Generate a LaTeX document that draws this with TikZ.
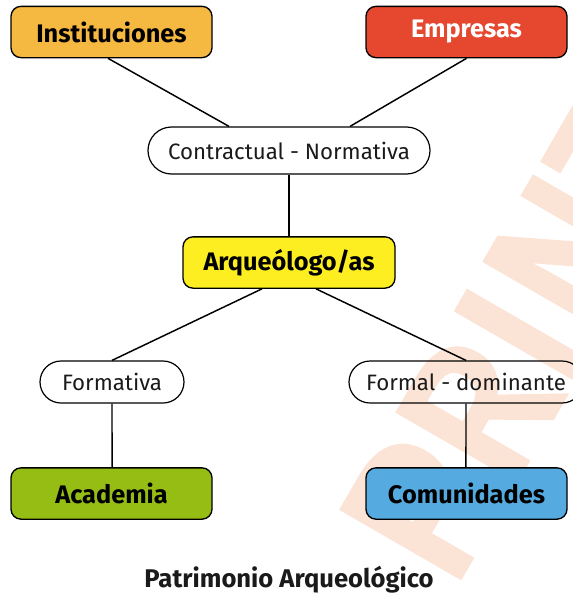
\documentclass[tikz,border=0pt]{standalone}
\usepackage{fontspec}
\setmainfont{Fira Sans}
\newfontfamily\wmfont[FakeBold=4]{Fira Sans}
\usetikzlibrary{shapes.misc}
\definecolor{cinst}{HTML}{F5B841}
\definecolor{cemp}{HTML}{E5482F}
\definecolor{carq}{HTML}{FDEE21}
\definecolor{cacad}{HTML}{95BD14}
\definecolor{ccom}{HTML}{55ABDF}
\definecolor{cwm}{HTML}{FBE3D6}
\definecolor{ctxt}{HTML}{1A1A1A}
\begin{document}
\begin{tikzpicture}[x=0.75pt,y=-0.75pt,
  box/.style={draw=black, line width=1pt, rounded corners=7.5pt, minimum width=150.75pt, minimum height=38.5pt, font=\bfseries\fontsize{19}{22}\selectfont, text=black, inner sep=0pt},
  pill/.style={draw=black, line width=0.9pt, rounded rectangle, font=\fontsize{16.7}{19}\selectfont, text=ctxt, inner sep=0pt},
  link/.style={draw=black, line width=1.1pt}]
\useasboundingbox (0,0) rectangle (573,596);
\begin{scope}
\clip (0,0) rectangle (573,596);
\node[rotate=60, anchor=base west, text=cwm, font=\wmfont\fontsize{145}{150}\selectfont, inner sep=0pt] (wm) at (450,592) {PRINT};
\end{scope}
% pills
\begin{scope}
\clip (0,0) rectangle (573,596);
\node[pill, minimum width=211.5pt, minimum height=35.25pt] (cn) at (289,150.5) {Contractual - Normativa};
\node[pill, minimum width=108pt, minimum height=31.5pt] (form) at (112,382) {Formativa};
\node[pill, minimum width=175.5pt, minimum height=31.5pt] (fd) at (466,382) {Formal - dominante};
\end{scope}
% boxes
\node[box, fill=cinst] (inst) at (111.5,32) {Instituciones};
\node[box, fill=cemp, text=white] (emp) at (466.5,32) {Empresas};
\node[box, fill=carq, minimum width=159pt] (arq) at (289,262.5) {Arqueólogo/as};
\node[box, fill=cacad] (acad) at (111.5,493.5) {Academia};
\node[box, fill=ccom] (com) at (466.5,493.5) {Comunidades};
\node[font=\bfseries\fontsize{19.2}{22}\selectfont, text=ctxt] (title) at (289,580) {Patrimonio Arqueológico};
% connectors
\draw[link] ([xshift=-2.6pt]inst.south) -- ([xshift=-45pt]cn.north);
\draw[link] (emp.south) -- ([xshift=45.75pt]cn.north);
\draw[link] (cn.south) -- (arq.north);
\draw[link] ([xshift=-20.25pt]arq.south) -- (form.north);
\draw[link] ([xshift=20.25pt]arq.south) -- (fd.north);
\draw[link] (form.south) -- ([xshift=0.4pt]acad.north);
\draw[link] (fd.south) -- ([xshift=-0.4pt]com.north);
\end{tikzpicture}
\end{document}
